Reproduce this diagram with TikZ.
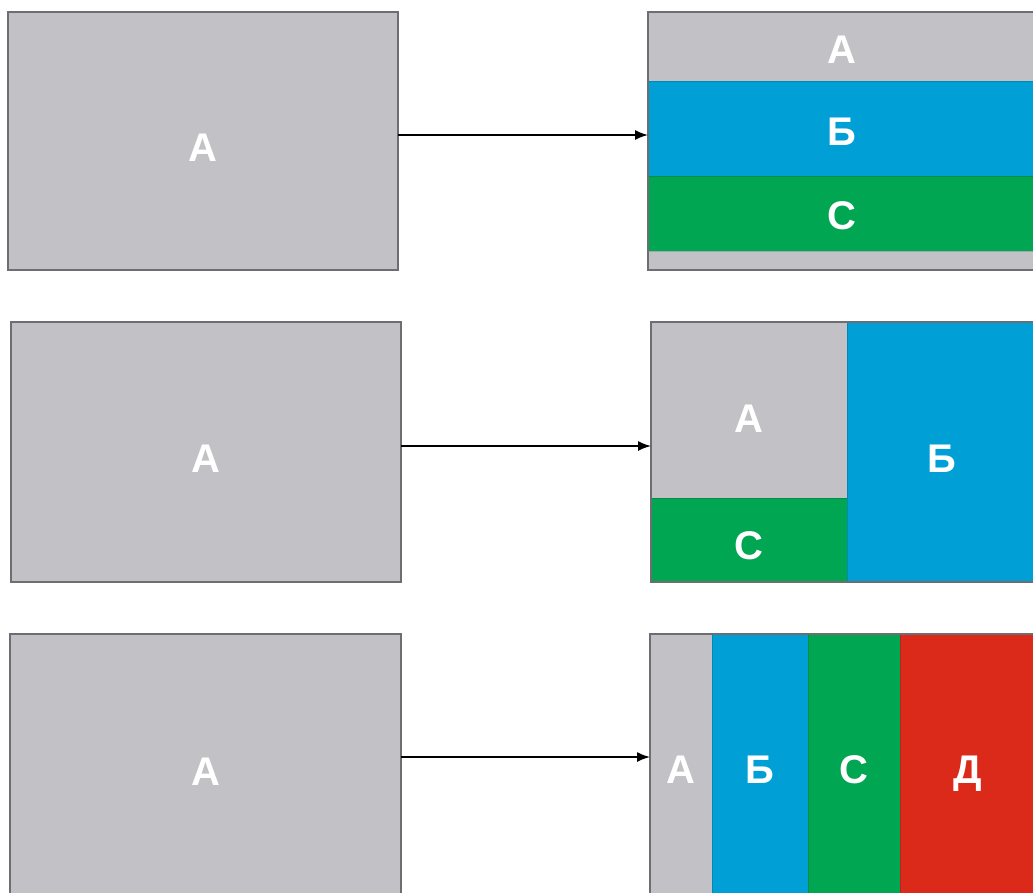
\documentclass[tikz,border=0pt]{standalone}
\usepackage{fontspec}
\setmainfont{Liberation Sans}
\usetikzlibrary{arrows.meta}
\definecolor{cgrey}{HTML}{C2C1C6}
\definecolor{cblue}{HTML}{00A0D6}
\definecolor{cgreen}{HTML}{00A651}
\definecolor{cred}{HTML}{DC2A1A}
\definecolor{cedge}{HTML}{6D6E71}
\tikzset{
  band/.style={rectangle, inner sep=0pt, outer sep=0pt, text=white,
    font=\fontsize{40}{44}\selectfont\bfseries, text height=36pt, text depth=0pt,
    draw=#1!85!black, line width=0.6pt, fill=#1},
  srcbox/.style={band=cgrey, draw=cedge, line width=1.2pt, text height=40pt},
  flow/.style={line width=1.6pt, -{Latex[length=13pt,width=10pt]}},
  frame/.style={draw=cedge, line width=1.2pt}
}
\begin{document}
\begin{tikzpicture}[x=1pt,y=-1pt]
\useasboundingbox (0,0) rectangle (1033,892);
\fill[white] (0,0) rectangle (1033,892);
% Row 1
\node[srcbox, minimum width=390pt, minimum height=258pt] (L1) at (203,141) {А};
\node[band=cgrey, minimum width=388pt, minimum height=69pt, text height=33pt] (R1a) at (842,46.5) {А};
\node[band=cblue, minimum width=388pt, minimum height=95pt, text height=33pt] (R1b) at (842,128.5) {Б};
\node[band=cgreen, minimum width=388pt, minimum height=75pt, text height=31pt] (R1c) at (842,213.5) {С};
\node[band=cgrey, minimum width=388pt, minimum height=19pt, text height=0pt] (R1d) at (842,260.5) {};
\draw[frame] (R1a.north west) rectangle (R1d.south east);
\draw[flow] ([yshift=6pt]L1.east) -- ([yshift=6pt]L1.east -| R1b.west);
% Row 2
\node[srcbox, minimum width=390pt, minimum height=260pt] (L2) at (206,452) {А};
\node[band=cgrey, minimum width=196pt, minimum height=176pt, text height=44pt] (R2a) at (749,410) {А};
\node[band=cgreen, minimum width=196pt, minimum height=84pt, text height=38pt] (R2c) at (749,540) {С};
\node[band=cblue, minimum width=189pt, minimum height=260pt, text height=41pt] (R2b) at (941.5,452) {Б};
\draw[frame] (R2a.north west) rectangle (R2b.south east);
\draw[flow] ([yshift=6pt]L2.east) -- ([yshift=6pt]L2.east -| R2a.west);
% Row 3
\node[srcbox, minimum width=391pt, minimum height=262pt] (L3) at (205.5,765) {А};
\node[band=cgrey, minimum width=62pt, minimum height=262pt] (R3a) at (681,765) {А};
\node[band=cblue, minimum width=96pt, minimum height=262pt] (R3b) at (760,765) {Б};
\node[band=cgreen, minimum width=92pt, minimum height=262pt] (R3c) at (854,765) {С};
\node[band=cred, minimum width=136pt, minimum height=262pt] (R3d) at (968,765) {Д};
\draw[frame] (R3a.north west) rectangle (R3d.south east);
\draw[flow] ([yshift=8pt]L3.east) -- ([yshift=8pt]L3.east -| R3a.west);
\end{tikzpicture}
\end{document}
